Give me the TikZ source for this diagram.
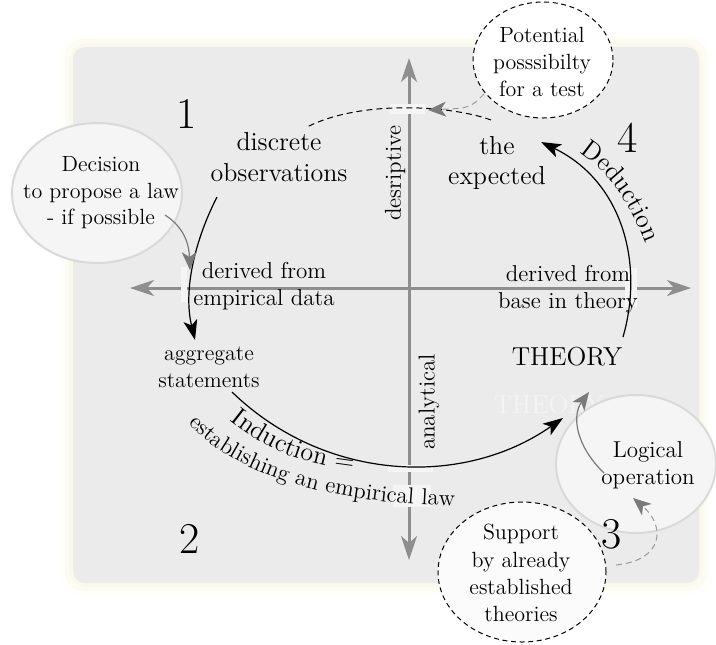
\documentclass[tikz,border=0pt]{standalone}
\usetikzlibrary{arrows.meta,decorations.text,shapes.geometric}
\definecolor{bg}{HTML}{EBEBEB}
\definecolor{glow}{HTML}{F6F6E2}
\definecolor{axisgray}{HTML}{8E8E8E}
\definecolor{arrowgray}{HTML}{7A7A7A}
\definecolor{dashgray}{HTML}{9A9A9A}
\definecolor{patch}{HTML}{F5F5F5}
\definecolor{bubblefill}{HTML}{F5F5F5}
\definecolor{bubbleline}{HTML}{D9D9D9}
\begin{document}
\begin{tikzpicture}[x=0.5pt,y=-0.5pt]
\tikzset{
  lbl/.style={align=center, inner sep=0pt, font=\fontsize{13}{15}\selectfont},
  sml/.style={align=center, inner sep=0pt, font=\fontsize{11.5}{13.5}\selectfont},
  btxt/.style={align=center, inner sep=0pt, font=\fontsize{11}{13.3}\selectfont},
  num/.style={inner sep=0pt, font=\fontsize{22}{26}\selectfont},
  bubble/.style={ellipse, draw=bubbleline, line width=1pt, fill=bubblefill, inner sep=0pt},
  dbubble/.style={ellipse, draw=black, line width=0.5pt, dash pattern=on 2.5pt off 1.8pt, inner sep=0pt},
  axisline/.style={draw=axisgray, line width=1.5pt, {Stealth[length=12pt,width=8pt,inset=3.5pt]}-{Stealth[length=12pt,width=8pt,inset=3.5pt]}},
  blackarrow/.style={draw=black, line width=0.6pt, -{Stealth[length=10pt,width=7pt,inset=2.5pt]}},
  grayarrow/.style={draw=arrowgray, line width=0.6pt, -{Stealth[length=9pt,width=7.5pt,inset=2.5pt,fill=arrowgray]}},
  dashline/.style={draw=black, line width=0.5pt, dash pattern=on 3pt off 2pt},
  graydash/.style={draw=dashgray, line width=0.5pt, dash pattern=on 3pt off 2pt, -{Stealth[length=9pt,width=7.5pt,inset=2.5pt,fill=arrowgray,color=arrowgray]}},
}
\useasboundingbox (0,0) rectangle (716,644);
% glow and panel
\foreach \d/\o in {12/0.15,8/0.25,4/0.4}
  \fill[glow, opacity=\o, rounded corners=9pt] (73-\d,47-\d) rectangle (699+\d,583+\d);
\fill[bg, rounded corners=6pt] (73,47) rectangle (699,583);

% axes
\coordinate (axL) at (130,288);
\coordinate (axR) at (691,288);
\coordinate (axT) at (409,58);
\coordinate (axB) at (409,560);
\draw[axisline] (axL) -- (axR);
\draw[axisline] (axB) -- (axT);

% light patches at crossings
\fill[patch] (390,104) rectangle (425,114);
\fill[patch] (181,267) rectangle (187,302);
\fill[patch] (388,465) rectangle (433,472);
\fill[patch] (393,485) rectangle (431,507);
\fill[patch] (625,268) rectangle (637,307);

% numbers
\node[num] (n1) at (187,114) {1};
\node[num] (n2) at (190,539) {2};
\node[num] (n4) at (628,138) {4};

% labels
\node[lbl, font=\fontsize{13}{15.5}\selectfont] (obs) at (279,157) {discrete\\observations};
\node[lbl] (exp) at (497,163) {the\\expected};
\node[sml, font=\fontsize{11}{13.5}\selectfont] (agg) at (209,367) {aggregate\\statements};
\node[lbl] (theory) at (567,357) {THEORY};
\node[lbl, text=white, text opacity=0.45] (ghost) at (549,405) {THEORY};
\node[sml] (emp) at (264,286) {derived from\\empirical data};
\node[sml] (thy) at (568,289) {derived from\\base in theory};
\node[sml, rotate=90] (desc) at (395,173) {desriptive};
\node[sml, rotate=90] (anal) at (429,402) {analytical};

% bubbles
\node[bubble, minimum width=85pt, minimum height=70pt] (dec) at (97,193) {};
\node[btxt] (dectxt) at (101,193) {Decision\\to propose a law\\- if possible};
\node[dbubble, fill=white, minimum width=70pt, minimum height=58pt] (pot) at (543,60) {};
\node[btxt] (pottxt) at (542,62) {Potential\\posssibilty\\for a test};
\node[dbubble, fill=white!97!gray, minimum width=84pt, minimum height=70pt] (sup) at (522,572) {};
\node[btxt, font=\fontsize{11}{13.6}\selectfont] (suptxt) at (521,573) {Support\\by already\\established\\theories};
\node[bubble, minimum width=80pt, minimum height=69pt] (logic) at (636,464) {};
\node[sml] (logtxt) at (648,465) {Logical\\operation};
\node[num] (n3) at (612,534) {3};

% connector end points
\coordinate (obsOut) at (217,197);
\coordinate (aggIn) at (195,340);
\coordinate (decOut) at (165,215);
\coordinate (decIn) at (190,270);
\coordinate (aggOut) at (232,392);
\coordinate (thIn) at (563,418);
\coordinate (thOut) at (623,337);
\coordinate (expIn) at (541,142);
\coordinate (expOut) at (491,120);
\coordinate (obsIn) at (307,127);
\coordinate (potOut) at (484,94);
\coordinate (arcPt) at (428,110);
\coordinate (logOut) at (604,473);
\coordinate (thIn2) at (589,392);
\coordinate (supOut) at (616,565);
\coordinate (logIn) at (633,498);

% connectors
\draw[blackarrow] (obsOut) .. controls (195,240) and (183,290) .. (aggIn);
\draw[grayarrow] (decOut) .. controls (185,228) and (189,245) .. (decIn);
\draw[blackarrow] (aggOut) .. controls (325,482) and (463,488) .. (thIn);
\draw[blackarrow] (thOut) .. controls (645,260) and (620,180) .. (expIn);
\draw[dashline] (expOut) .. controls (450,105) and (360,100) .. (obsIn);
\draw[graydash] (potOut) .. controls (470,108) .. (arcPt);
\draw[grayarrow] (logOut) .. controls (575,445) and (572,415) .. (thIn2);
\draw[graydash] (supOut) .. controls (665,560) and (665,525) .. (logIn);

% curved labels
\path[decorate, decoration={text along path, text align=center,
  text={|\fontsize{13}{15}\selectfont|Induction =}}]
  (222,414) .. controls (262,450) and (312,468) .. (364,471);
\path[decorate, decoration={text along path, text align=center,
  text={|\fontsize{11.5}{13.5}\selectfont|establishing an empirical law}}]
  (182,416) .. controls (229,475) and (330,505) .. (465,506);
\path[decorate, decoration={text along path, text align=center,
  text={|\fontsize{13}{15}\selectfont|Deduction}}]
  (562,144) .. controls (603,160) and (634,204) .. (652,262);
\end{tikzpicture}
\end{document}
